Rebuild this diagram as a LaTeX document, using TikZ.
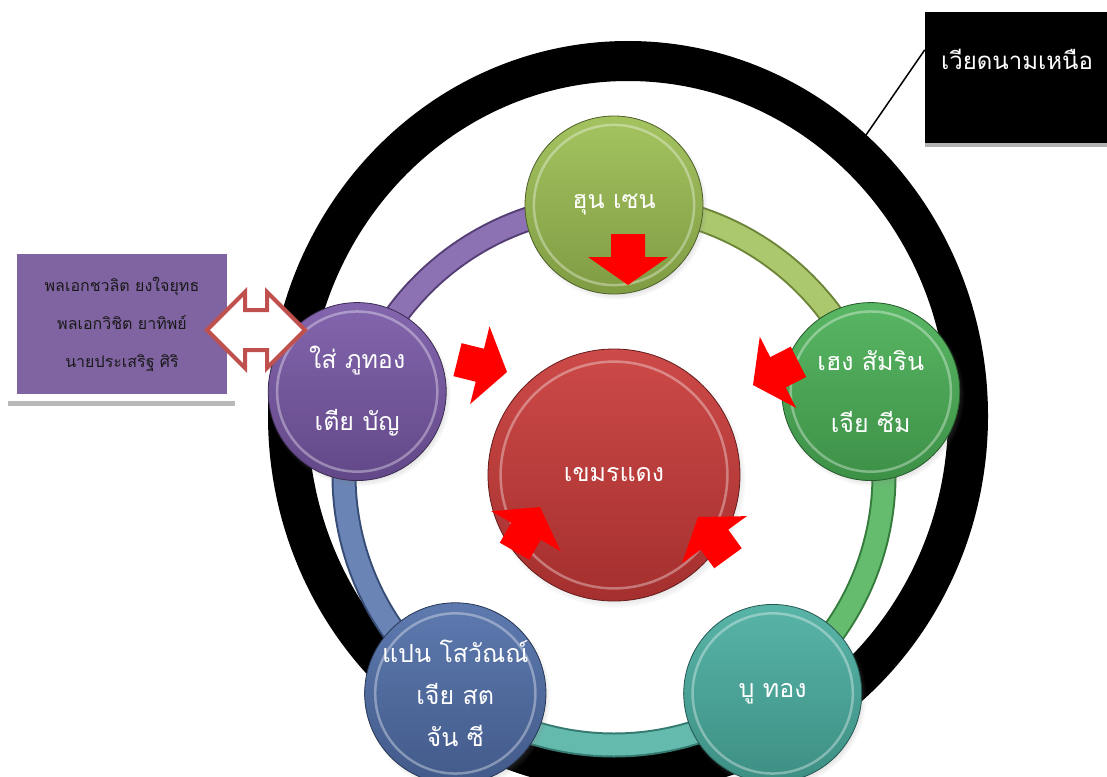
\documentclass[tikz,border=0pt]{standalone}
\usepackage{fontspec}
\newfontfamily\thaifont[Script=Thai]{Loma}
\usetikzlibrary{shapes.arrows,shadows,calc}

\definecolor{leafgreen}{RGB}{156,190,82}
\definecolor{grassgreen}{RGB}{74,176,86}
\definecolor{seateal}{RGB}{74,174,160}
\definecolor{steelblue}{RGB}{80,110,168}
\definecolor{plum}{RGB}{120,88,166}
\definecolor{brick}{RGB}{200,58,56}
\definecolor{panelpurple}{RGB}{128,100,162}
\definecolor{outlinered}{RGB}{192,80,77}

\tikzset{
  leader/.style 2 args={circle, minimum size=#2, inner sep=0pt, draw=#1!50!black, line width=0.8pt,
    top color=#1!92!white, bottom color=#1!82!black, text=white, align=center,
    font=\thaifont\fontsize{25}{42}\selectfont,
    circular drop shadow={shadow xshift=2pt, shadow yshift=-3pt, shadow scale=1.03, opacity=.45},
    path picture={\draw[white, opacity=.35, line width=2.5pt] (path picture bounding box.center) circle[radius={0.45*#2}];}},
  panel/.style={rectangle, fill=panelpurple, minimum width=210pt, minimum height=140pt, align=center,
    text=black!90, font=\thaifont\fontsize{16}{38}\selectfont},
  tagbox/.style={rectangle, fill=black, minimum width=184pt, minimum height=131pt,
    drop shadow={fill=gray!60, shadow xshift=0pt, shadow yshift=-4pt, opacity=1}},
  twoway/.style={double arrow, draw=outlinered, fill=white, line width=4pt, inner xsep=0pt, inner ysep=18pt,
    minimum height=98pt, double arrow head extend=18pt},
  push/.style={fill=red},
}

\begin{document}
\begin{tikzpicture}[x=1pt, y=-1pt]
    \clip (0,0) rectangle (1107,776);
    \coordinate (hub) at (614,475);

    % Outer ring
    \draw[line width=40pt] (628,416) ellipse [x radius=340, y radius=355];
    \coordinate (rim) at (866,135);

    % Band between the leaders
    \foreach \a/\c in {198/plum, -90/leafgreen, -18/grassgreen, 54/seateal, 126/steelblue} {
        \draw[line width=25pt, \c!70!black] ($(hub)+(\a:270)$) arc[start angle=\a, delta angle=72, radius=270];
        \draw[line width=21pt, \c!85!white] ($(hub)+(\a:270)$) arc[start angle=\a, delta angle=72, radius=270];
    }

    % Leaders
    \node[leader={brick}{252pt}] (khmer) at (hub) {เขมรแดง};
    \node[leader={leafgreen}{178pt}] (hun) at ($(hub)+(-90:270)$) {ฮุน เซน};
    \node[leader={grassgreen}{178pt}] (heng) at ($(hub)+(-18:270)$) {เฮง สัมริน\\[20pt]เจีย ซีม};
    \node[leader={seateal}{178pt}] (bou) at ($(hub)+(54:270)$) {บู ทอง};
    \node[leader={steelblue}{178pt}] (pen) at ($(hub)+(126:270)$) {แปน โสวัณณ์\\เจีย สต\\จัน ซี};
    \node[leader={plum}{178pt}] (say) at ($(hub)+(198:270)$) {ใส่ ภูทอง\\[20pt]เตีย บัญ};

    % Red arrows toward the centre
    \foreach \x/\y/\a in {628/285/-90, 507/372/-14, 753/385/207, 540/507/60, 698/517/126} {
        \fill[push, shift={(\x,\y)}, rotate=\a] (0,0) -- (-28,40) -- (-28,17) -- (-51,17)
            -- (-51,-17) -- (-28,-17) -- (-28,-40) -- cycle;
    }

    % Thai generals
    \fill[gray!55] (8,401) rectangle (235,406);
    \node[panel] (generals) at (122,324) {พลเอกชวลิต ยงใจยุทธ\\พลเอกวิชิต ยาทิพย์\\นายประเสริฐ ศิริ};
    \node[twoway] (link) at (256,330) {};

    % North Vietnam
    \node[tagbox, label={[text=white, font=\thaifont\fontsize{24}{28}\selectfont, anchor=center, yshift=-48pt]north:เวียดนามเหนือ}] (vietnam) at (1017,77.5) {};
    \draw[line width=1.5pt] ([yshift=-38pt]vietnam.north west) -- (rim);
\end{tikzpicture}
\end{document}
